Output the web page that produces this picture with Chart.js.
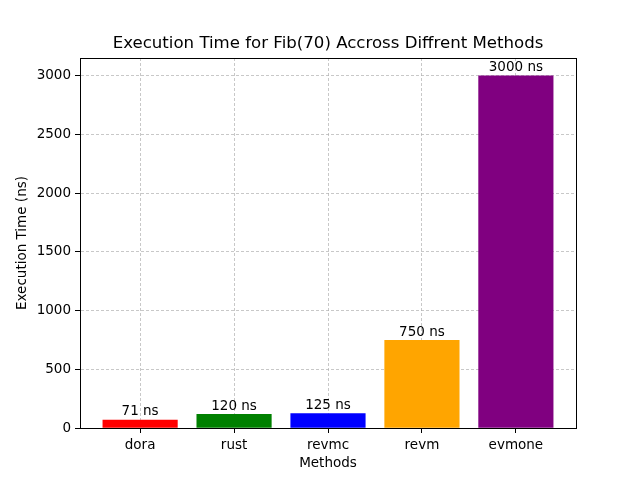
<!DOCTYPE html>
<html>
<head>
<meta charset="utf-8">
<script src="https://cdn.jsdelivr.net/npm/chart.js@4/dist/chart.umd.min.js"></script>
<style>
	html, body { margin: 0; padding: 0; background: #fff; }
	#wrap { width: 640px; height: 480px; }
</style>
</head>
<body>
<div id="wrap"><canvas id="myChart" width="640" height="480"></canvas></div>
<script>
const methods = ["dora", "rust", "revmc", "revm", "evmone"];
const times = [71, 120, 125, 750, 3000];
const barColors = ["red", "green", "blue", "orange", "purple"];
const yTicks = [0, 500, 1000, 1500, 2000, 2500, 3000];
const chartTitle = "Execution Time for Fib(70) Accross Diffrent Methods";

const FONT = "'DejaVu Sans', sans-serif";

// labels above each bar, like plt.bar_label
const barLabels = {
	id: "barLabels",
	afterDatasetsDraw(chart) {
		const ctx = chart.ctx;
		const meta = chart.getDatasetMeta(0);
		ctx.save();
		ctx.font = "13.5px " + FONT;
		ctx.fillStyle = "#000";
		ctx.textAlign = "center";
		ctx.textBaseline = "bottom";
		meta.data.forEach((bar, i) => {
			ctx.fillText(times[i] + " ns", bar.x, bar.y - 1);
		});
		ctx.restore();
	},
};

// full box round the plot area + title centred over the axes
const frame = {
	id: "frame",
	afterDraw(chart) {
		const a = chart.chartArea;
		const ctx = chart.ctx;
		ctx.save();
		ctx.strokeStyle = "#000";
		ctx.lineWidth = 1;
		ctx.strokeRect(Math.round(a.left) + 0.5, Math.round(a.top) + 0.5, Math.round(a.right - a.left), Math.round(a.bottom - a.top));
		ctx.font = "16.6px " + FONT;
		ctx.fillStyle = "#000";
		ctx.textAlign = "center";
		ctx.textBaseline = "middle";
		ctx.fillText(chartTitle, (a.left + a.right) / 2, 44);
		ctx.restore();
	},
};

new Chart(document.getElementById("myChart"), {
	type: "bar",
	data: {
		datasets: [{
			data: times.map((t, i) => ({ x: i, y: t })),
			backgroundColor: barColors,
			barPercentage: 0.8,
			categoryPercentage: 1,
		}],
	},
	plugins: [barLabels, frame],
	options: {
		responsive: false,
		animation: false,
		layout: { padding: { left: 0, right: 64, top: 58, bottom: 0 } },
		plugins: {
			legend: { display: false },
			tooltip: { enabled: false },
			title: { display: false },
		},
		scales: {
			x: {
				type: "linear",
				min: -0.64,
				max: 4.64,
				offset: false,
				z: 1,
				afterBuildTicks(scale) {
					scale.ticks = methods.map((m, i) => ({ value: i }));
				},
				afterFit(scale) {
					scale.height = 52;
				},
				ticks: {
					color: "#000",
					font: { family: FONT, size: 13.5 },
					padding: 4,
					maxRotation: 0,
					callback: (v) => methods[v],
				},
				grid: {
					offset: false,
					color: "#b0b0b0",
					lineWidth: 0.7,
					tickLength: 5,
					tickColor: "#000",
					tickWidth: 1,
					tickBorderDash: [],
				},
				border: { display: true, color: "#000", width: 1, dash: [3, 2] },
				title: {
					display: true,
					text: "Methods",
					color: "#000",
					font: { family: FONT, size: 13.5 },
					padding: { top: 0, bottom: 8 },
				},
			},
			y: {
				min: 0,
				max: 3150,
				z: 1,
				afterBuildTicks(scale) {
					scale.ticks = yTicks.map((v) => ({ value: v }));
				},
				afterFit(scale) {
					scale.width = 80;
				},
				ticks: {
					color: "#000",
					font: { family: FONT, size: 13.5 },
					padding: 4,
					callback: (v) => String(v),
				},
				grid: {
					color: "#b0b0b0",
					lineWidth: 0.7,
					tickLength: 5,
					tickColor: "#000",
					tickWidth: 1,
					tickBorderDash: [],
				},
				border: { display: true, color: "#000", width: 1, dash: [3, 2] },
				title: {
					display: true,
					text: "Execution Time (ns)",
					color: "#000",
					font: { family: FONT, size: 13.5 },
					padding: 14,
				},
			},
		},
	},
});
</script>
</body>
</html>
